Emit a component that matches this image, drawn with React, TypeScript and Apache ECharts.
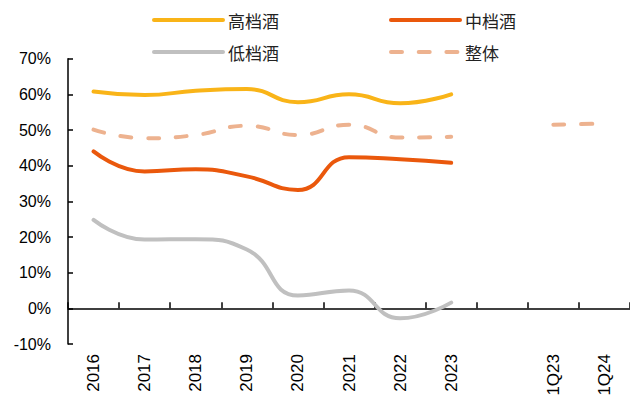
import React, { useEffect, useRef } from "react";
import * as echarts from "echarts";

// Category slots: yearly values, one empty slot, then the two quarters
const categories = ["2016", "2017", "2018", "2019", "2020", "2021", "2022", "2023", "", "1Q23", "1Q24"];

// Gross-margin style ratios, in percent
const highEnd = [60.8, 59.8, 61.0, 61.5, 57.8, 60.0, 57.5, 60.0, null, null, null];
const midEnd = [44.0, 38.4, 39.0, 37.0, 33.2, 42.4, 41.8, 40.8, null, null, null];
const lowEnd = [24.8, 19.3, 19.4, 16.5, 3.6, 5.0, -2.8, 1.6, null, null, null];
const overall = [50.1, 47.7, 48.6, 51.2, 48.6, 51.5, 47.9, 48.1, null, 51.5, 51.8];

const yTicks = { min: -10, max: 70, interval: 10 };

const FONT_LATIN = "Arial, 'Liberation Sans', sans-serif";
const FONT_CJK = "'Noto Sans CJK SC', sans-serif";

const colors = {
  high: "#F9B418",
  mid: "#EA580C",
  low: "#C0C0C0",
  overall: "#EDB28F",
};

const DASH = [11, 16.7];

function legendAt(name: string, left: number, top: number, dashed = false) {
  return {
    data: [name],
    left,
    top,
    padding: 0,
    itemWidth: 69,
    itemHeight: 14,
    selectedMode: false,
    itemStyle: { opacity: 0, borderWidth: 0 },
    lineStyle: { width: 4, cap: "round", type: dashed ? DASH : "solid" },
    textStyle: { fontFamily: FONT_CJK, fontSize: 17, color: "#222" },
  };
}

export default function App() {
  const ref = useRef<HTMLDivElement>(null);

  useEffect(() => {
    if (!ref.current) return;
    const chart = echarts.init(ref.current, null, { renderer: "svg" });

    const lineSeries = (name: string, data: (number | null)[], color: string, dashed = false) => ({
      name,
      type: "line",
      data,
      smooth: 0.5,
      symbol: "none",
      connectNulls: false,
      xAxisIndex: 0,
      yAxisIndex: 0,
      lineStyle: {
        color,
        width: 4,
        cap: "round",
        join: "round",
        type: dashed ? DASH : "solid",
      },
      itemStyle: { color },
    });

    chart.setOption({
      animation: false,
      backgroundColor: "#fff",
      grid: {
        left: 68,
        right: 0,
        top: 58.7,
        bottom: 55,
        containLabel: false,
        outerBoundsMode: "none",
      },
      legend: [
        legendAt("高档酒", 152, 11.5),
        legendAt("中档酒", 389, 11.5),
        legendAt("低档酒", 152, 43.5),
        legendAt("整体", 389, 43.5, true),
      ],
      xAxis: [
        {
          type: "category",
          data: categories,
          position: "bottom",
          boundaryGap: true,
          axisLine: { show: false, onZero: false },
          axisTick: { show: false },
          axisLabel: {
            rotate: 90,
            margin: 10,
            interval: 0,
            fontFamily: FONT_LATIN,
            fontSize: 17,
            color: "#000",
          },
        },
        {
          type: "category",
          data: categories,
          position: "bottom",
          boundaryGap: true,
          axisLine: { show: true, onZero: true, onZeroAxisIndex: 0, lineStyle: { color: "#000", width: 1.5 } },
          axisTick: { show: true, inside: true, length: 6, lineStyle: { color: "#000", width: 1.5 } },
          axisLabel: { show: false },
        },
      ],
      yAxis: {
        type: "value",
        min: yTicks.min,
        max: yTicks.max,
        interval: yTicks.interval,
        axisLine: { show: true, onZero: false, lineStyle: { color: "#000", width: 1.5 } },
        axisTick: { show: true, inside: true, length: 5, lineStyle: { color: "#000", width: 1.5 } },
        splitLine: { show: false },
        axisLabel: {
          margin: 17,
          fontFamily: FONT_LATIN,
          fontSize: 16,
          color: "#000",
          formatter: "{value}%",
        },
      },
      series: [
        lineSeries("高档酒", highEnd, colors.high),
        lineSeries("中档酒", midEnd, colors.mid),
        lineSeries("低档酒", lowEnd, colors.low),
        lineSeries("整体", overall, colors.overall, true),
      ],
    });

    return () => chart.dispose();
  }, []);

  return (
    <div
      ref={ref}
      style={{ position: "fixed", left: 0, top: 0, width: 630, height: 399, background: "#fff" }}
    />
  );
}
